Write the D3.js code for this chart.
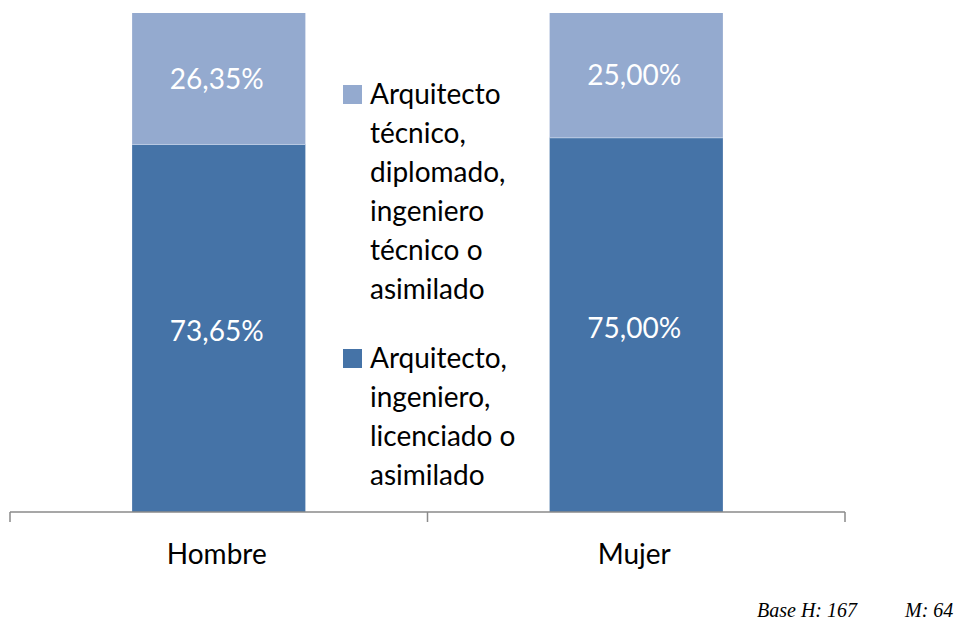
<!DOCTYPE html>
<html>
<head>
<meta charset="utf-8">
<script src="https://cdn.jsdelivr.net/npm/d3@7/dist/d3.min.js"></script>
<style>
  html, body { margin: 0; padding: 0; background: #fff; }
  svg { display: block; }
</style>
</head>
<body>
<svg id="chart" width="957" height="620"></svg>
<script>
const categories = ["Hombre", "Mujer"];
const seriesNames = [
  "Arquitecto, ingeniero, licenciado o asimilado",
  "Arquitecto técnico, diplomado, ingeniero técnico o asimilado"
];
const valuesSuperior = [73.65, 75.00];
const valuesTecnico = [26.35, 25.00];
const labelsSuperior = ["73,65%", "75,00%"];
const labelsTecnico = ["26,35%", "25,00%"];
const legendLinesTecnico = ["Arquitecto", "técnico,", "diplomado,", "ingeniero", "técnico o", "asimilado"];
const legendLinesSuperior = ["Arquitecto,", "ingeniero,", "licenciado o", "asimilado"];
const baseNote = ["Base H: 167", "M: 64"];

const colors = { superior: "#4573A7", tecnico: "#94AACF" };
const font = "Lato, 'Open Sans', sans-serif";

const svg = d3.select("#chart");

const x = d3.scaleBand().domain(categories).range([10, 845])
  .paddingInner(0.585).paddingOuter(0.2925);
const y = d3.scaleLinear().domain([0, 100]).range([512, 13]);

const rows = categories.map((c, i) => ({
  cat: c,
  superior: valuesSuperior[i],
  tecnico: valuesTecnico[i],
  labS: labelsSuperior[i],
  labT: labelsTecnico[i]
}));
const stack = d3.stack().keys(["superior", "tecnico"]);
const stacked = stack(rows);

const g = svg.append("g");
stacked.forEach(layer => {
  const key = layer.key;
  g.selectAll(null).data(layer).join("rect")
    .attr("x", d => x(d.data.cat))
    .attr("width", x.bandwidth())
    .attr("y", d => y(d[1]))
    .attr("height", d => y(d[0]) - y(d[1]))
    .attr("fill", colors[key]);
  g.selectAll(null).data(layer).join("text")
    .attr("x", d => x(d.data.cat) + x.bandwidth() / 2 - 2)
    .attr("y", d => (y(d[0]) + y(d[1])) / 2 + (key === "superior" ? 13 : 10))
    .attr("text-anchor", "middle")
    .attr("font-family", font)
    .attr("font-size", 28)
    .attr("fill", "#fff")
    .text(d => key === "superior" ? d.data.labS : d.data.labT);
});

// separator line between segments (light)
g.selectAll(null).data(stacked[0]).join("line")
  .attr("x1", d => x(d.data.cat)).attr("x2", d => x(d.data.cat) + x.bandwidth())
  .attr("y1", d => y(d[1])).attr("y2", d => y(d[1]))
  .attr("stroke", "#b9c9e2").attr("stroke-width", 1);

// x axis
const axisG = svg.append("g").attr("transform", `translate(0,${y(0)})`);
axisG.call(d3.axisBottom(x).tickSize(0).tickPadding(40))
  .call(a => a.select(".domain").remove())
  .call(a => a.selectAll("text")
    .attr("font-family", font).attr("font-size", 28).attr("fill", "#000")
    .attr("dy", 0));
const [r0, r1] = x.range();
const boundaries = [r0].concat(categories.map(c => x(c) + x.bandwidth() / 2 + x.step() / 2));
axisG.append("line").attr("x1", r0).attr("x2", r1).attr("y1", 0).attr("y2", 0)
  .attr("stroke", "#8a8a8a").attr("stroke-width", 1.5);
axisG.selectAll(".bt").data(boundaries).join("line")
  .attr("class", "bt")
  .attr("x1", d => d).attr("x2", d => d).attr("y1", 0).attr("y2", 10)
  .attr("stroke", "#8a8a8a").attr("stroke-width", 1.5);
axisG.selectAll(".tick text").attr("y", 52).attr("dx", -2);

// legend
const legend = svg.append("g").attr("font-family", font).attr("font-size", 28).attr("fill", "#000");
const lineH = 39;
const blocks = [
  { color: colors.tecnico, lines: legendLinesTecnico, top: 104 },
  { color: colors.superior, lines: legendLinesSuperior, top: 368 }
];
blocks.forEach(b => {
  legend.append("rect").attr("x", 343).attr("y", b.top - 19).attr("width", 19).attr("height", 19)
    .attr("fill", b.color);
  b.lines.forEach((t, i) => {
    legend.append("text").attr("x", 370).attr("y", b.top + i * lineH).text(t);
  });
});

// base note
const note = svg.append("g").attr("font-family", "'Liberation Serif', serif")
  .attr("font-style", "italic").attr("font-size", 20).attr("fill", "#000");
note.append("text").attr("x", 757).attr("y", 617).text(baseNote[0]);
note.append("text").attr("x", 905).attr("y", 617).text(baseNote[1]);
</script>
</body>
</html>
